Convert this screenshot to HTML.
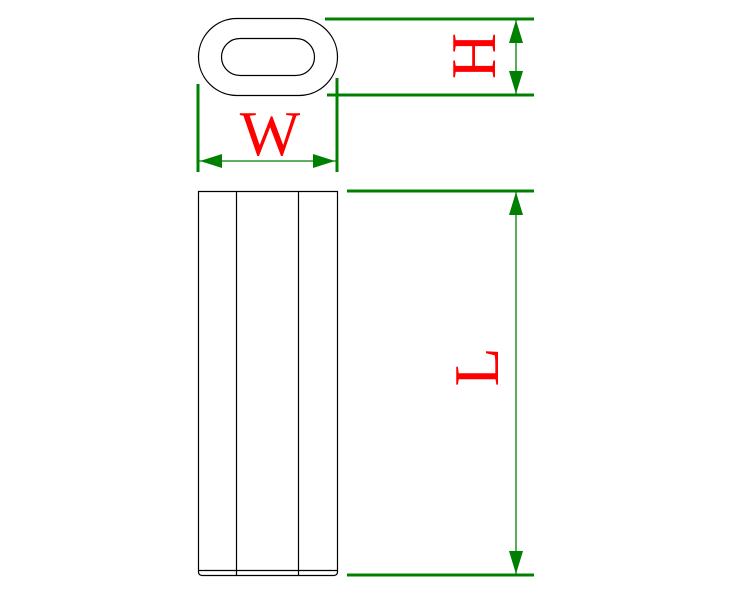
<!DOCTYPE html>
<html><head><style>html,body{margin:0;padding:0;background:#fff}</style></head>
<body>
<svg width="750" height="599" viewBox="0 0 750 599" xmlns="http://www.w3.org/2000/svg">
<g fill="none" stroke="#000" stroke-width="1.2">
<rect x="198.5" y="18.5" width="139" height="77" rx="38.5" ry="38.5"/>
<rect x="221.5" y="38.5" width="93" height="37" rx="18.5" ry="18.5"/>
<path d="M198.5 191.5 H337.5 V572 Q337.5 575 334 575.5 H202 Q198.5 575 198.5 572 Z"/>
<line x1="198.5" y1="570.5" x2="337.5" y2="570.5"/>
<line x1="236.5" y1="191" x2="236.5" y2="575"/>
<line x1="298.5" y1="191" x2="298.5" y2="575"/>
</g>
<g stroke="#008000">
<line x1="325" y1="19" x2="534" y2="19" stroke-width="3"/>
<line x1="327" y1="95" x2="534" y2="95" stroke-width="3"/>
<line x1="347" y1="191" x2="534" y2="191" stroke-width="3"/>
<line x1="347" y1="575" x2="534" y2="575" stroke-width="3"/>
<line x1="198" y1="84" x2="198" y2="172" stroke-width="3"/>
<line x1="337" y1="78" x2="337" y2="172" stroke-width="3"/>
<line x1="516" y1="19" x2="516" y2="95" stroke-width="1.3"/>
<line x1="516" y1="191" x2="516" y2="575" stroke-width="1.3"/>
<line x1="198" y1="161" x2="337" y2="161" stroke-width="1.3"/>
</g>
<g fill="#008000">
<polygon points="516,20 509,43 523,43"/>
<polygon points="516,94 509,71 523,71"/>
<polygon points="516,192 509,215 523,215"/>
<polygon points="516,574 509,551 523,551"/>
<polygon points="200,161 222,154 222,168"/>
<polygon points="335,161 313,154 313,168"/>
</g>
<g fill="#ff0000" font-family="Liberation Serif, serif" font-size="64">
<text x="270" y="155" text-anchor="middle">W</text>
<text transform="translate(495,56) rotate(-90)" text-anchor="middle">H</text>
<text transform="translate(498,367) rotate(-90)" text-anchor="middle">L</text>
</g>
</svg>
</body></html>
